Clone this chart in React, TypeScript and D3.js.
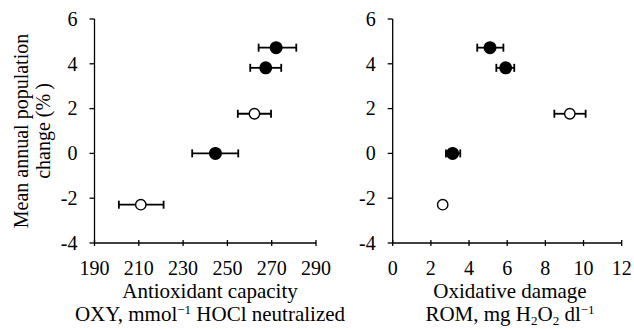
import React from "react";
import * as d3 from "d3";

const yValues = [4.72, 3.82, 1.77, 0, -2.29];
const filled = [true, true, false, true, false];

const oxyX = [272, 267.3, 262.2, 244.6, 210.9];
const oxyLo = [264.1, 260.3, 254.7, 234.1, 201];
const oxyHi = [281.1, 274.3, 269.7, 254.9, 221.2];

const romX = [5.1, 5.92, 9.28, 3.14, 2.62];
const romLo = [4.43, 5.43, 8.47, 2.79, 2.62];
const romHi = [5.8, 6.37, 10.11, 3.54, 2.62];

const yTicks = [-4, -2, 0, 2, 4, 6];
const oxyTicks = [190, 210, 230, 250, 270, 290];
const romTicks = [0, 2, 4, 6, 8, 10, 12];

const FONT = "Liberation Serif, Times New Roman, DejaVu Serif, serif";

type PanelProps = {
  x0: number;
  x1: number;
  domain: [number, number];
  ticks: number[];
  xs: number[];
  lo: number[];
  hi: number[];
  title1: React.ReactNode;
  title2: React.ReactNode;
  titleX: number;
};

const yScale = d3.scaleLinear().domain([-4, 6]).range([243, 19]);

function Panel({ x0, x1, domain, ticks, xs, lo, hi, title1, title2, titleX }: PanelProps) {
  const x = d3.scaleLinear().domain(domain).range([x0, x1]);
  const yb = yScale(-4);
  return (
    <g>
      <line x1={x0} x2={x0} y1={yScale(6)} y2={yb} stroke="#000" strokeWidth={1.3} />
      <line x1={x0} x2={x1} y1={yb} y2={yb} stroke="#000" strokeWidth={1.3} />
      {yTicks.map((t) => (
        <g key={"y" + t}>
          <line x1={x0 - 5} x2={x0} y1={yScale(t)} y2={yScale(t)} stroke="#000" strokeWidth={1.3} />
          <text x={x0 - 17} y={yScale(t)} dy="0.34em" textAnchor="end" fontSize={20}>
            {t}
          </text>
        </g>
      ))}
      {ticks.map((t) => (
        <g key={"x" + t}>
          <line x1={x(t)} x2={x(t)} y1={yb - 3} y2={yb + 3} stroke="#000" strokeWidth={1.3} />
          <text x={x(t)} y={275} textAnchor="middle" fontSize={20}>
            {t}
          </text>
        </g>
      ))}
      {xs.map((v, i) => {
        const cy = yScale(yValues[i]);
        return (
          <g key={"p" + i}>
            <line x1={x(lo[i])} x2={x(hi[i])} y1={cy} y2={cy} stroke="#000" strokeWidth={1.8} />
            <line x1={x(lo[i])} x2={x(lo[i])} y1={cy - 4} y2={cy + 4} stroke="#000" strokeWidth={1.8} />
            <line x1={x(hi[i])} x2={x(hi[i])} y1={cy - 4} y2={cy + 4} stroke="#000" strokeWidth={1.8} />
            <circle
              cx={x(v)}
              cy={cy}
              r={filled[i] ? 5.8 : 5.2}
              fill={filled[i] ? "#000" : "#fff"}
              stroke="#000"
              strokeWidth={1.4}
            />
          </g>
        );
      })}
      <text x={titleX} y={298} textAnchor="middle" fontSize={21}>
        {title1}
      </text>
      <text x={titleX} y={321} textAnchor="middle" fontSize={21}>
        {title2}
      </text>
    </g>
  );
}

export default function App() {
  return (
    <svg
      width={634}
      height={329}
      style={{ position: "absolute", left: 0, top: 0, background: "#fff", fontFamily: FONT }}
    >
      <rect width={634} height={329} fill="#fff" />
      <g transform="translate(28,131) rotate(-90)">
        <text x={0} y={0} textAnchor="middle" fontSize={20}>
          Mean annual population
        </text>
        <text x={0} y={22} textAnchor="middle" fontSize={20}>
          change (%{"\u2009"})
        </text>
      </g>
      <Panel
        x0={94.5}
        x1={316}
        domain={[190, 290]}
        ticks={oxyTicks}
        xs={oxyX}
        lo={oxyLo}
        hi={oxyHi}
        titleX={210}
        title1="Antioxidant capacity"
        title2={
          <>
            OXY, mmol
            <tspan fontSize={13} dy={-7}>−1</tspan>
            <tspan dy={7}> HOCl neutralized</tspan>
          </>
        }
      />
      <Panel
        x0={392.7}
        x1={621.7}
        domain={[0, 12]}
        ticks={romTicks}
        xs={romX}
        lo={romLo}
        hi={romHi}
        titleX={510}
        title1="Oxidative damage"
        title2={
          <>
            ROM, mg H
            <tspan fontSize={13} dy={4}>2</tspan>
            <tspan dy={-4}>O</tspan>
            <tspan fontSize={13} dy={4}>2</tspan>
            <tspan dy={-4}> dl</tspan>
            <tspan fontSize={13} dy={-7}>−1</tspan>
          </>
        }
      />
    </svg>
  );
}
